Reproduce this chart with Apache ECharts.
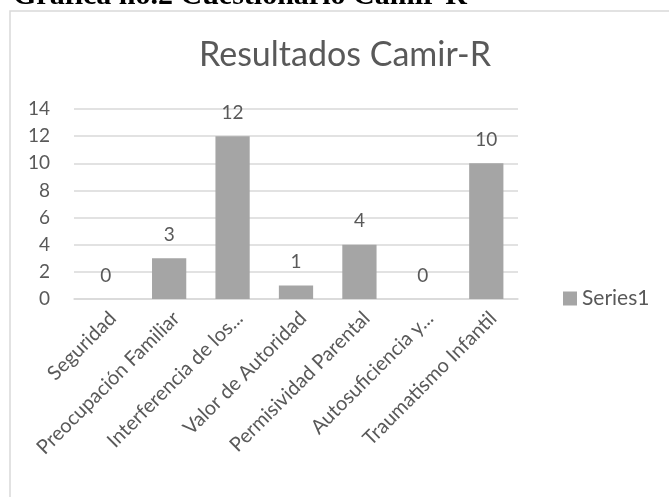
<!DOCTYPE html>
<html>
<head>
<meta charset="utf-8">
<script src="https://cdn.jsdelivr.net/npm/echarts@6/dist/echarts.min.js"></script>
<style>
html,body{margin:0;padding:0;background:#fff;}
#c{width:669px;height:497px;}
</style>
</head>
<body>
<div id="c"></div>
<script>
const categories = ["Seguridad", "Preocupación Familiar", "Interferencia de los...", "Valor de Autoridad", "Permisividad Parental", "Autosuficiencia y...", "Traumatismo Infantil"];
const series1 = [0, 3, 12, 1, 4, 0, 10];
const yTicks = [0, 2, 4, 6, 8, 10, 12, 14];
const seriesName = "Series1";
const chartTitle = "Resultados Camir-R";
const docTitle = "Gráfica no.2 Cuestionario Camir-R";

const chart = echarts.init(document.getElementById('c'), null, {renderer: 'canvas'});
const txt = '#595959';
const font = 'Lato';
chart.setOption({
  animation: false,
  backgroundColor: '#fff',
  title: {
    text: chartTitle,
    left: 340, top: 33,
    textAlign: 'center',
    textStyle: {color: txt, fontFamily: font, fontWeight: 'normal', fontSize: 34}
  },
  graphic: [
    {type: 'rect', shape: {x: 10, y: 11, width: 700, height: 600},
     style: {fill: 'none', stroke: '#d9d9d9', lineWidth: 1.5}, z: -1},
    {type: 'text', style: {text: docTitle, x: 13, y: 11, font: 'bold 30px "Liberation Serif"', fill: '#000', verticalAlign: 'bottom'}}
  ],
  legend: {
    data: [seriesName],
    left: 558, top: 283,
    orient: 'vertical',
    icon: 'rect', itemWidth: 14, itemHeight: 14, itemGap: 6,
    textStyle: {color: txt, fontFamily: font, fontSize: 21, padding: [0,0,0,0]}
  },
  grid: {left: 74, right: 151, top: 109, bottom: 198, containLabel: false},
  xAxis: {
    type: 'category', data: categories,
    axisLine: {lineStyle: {color: '#d9d9d9', width: 1.5}},
    axisTick: {show: false},
    axisLabel: {rotate: 45, color: txt, fontFamily: font, fontSize: 20, margin: 9, interval: 0, verticalAlign: 'top'}
  },
  yAxis: {
    type: 'value', min: yTicks[0], max: yTicks[yTicks.length-1], interval: 2,
    axisLine: {show: false}, axisTick: {show: false},
    splitLine: {lineStyle: {color: '#d9d9d9', width: 1.5}},
    axisLabel: {color: txt, fontFamily: font, fontSize: 19, margin: 24}
  },
  series: [{
    name: seriesName, type: 'bar', data: series1,
    barCategoryGap: '46%',
    itemStyle: {color: '#a5a5a5'},
    label: {show: true, position: 'top', distance: 14, color: txt, fontFamily: font, fontSize: 19}
  }]
});
</script>
</body>
</html>
